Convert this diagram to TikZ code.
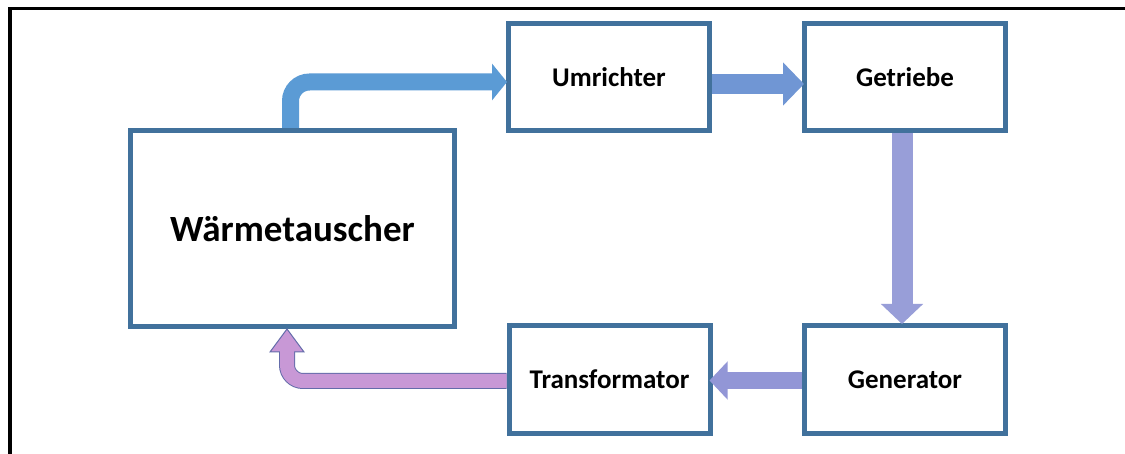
\documentclass[tikz,border=0pt]{standalone}
\usepackage{fontspec}
\setmainfont{Carlito}
\usetikzlibrary{arrows.meta,calc}
\definecolor{boxline}{RGB}{65,113,156}
\definecolor{arrA}{RGB}{91,155,213}
\definecolor{arrB}{RGB}{112,150,212}
\definecolor{arrC}{RGB}{152,158,216}
\definecolor{arrD}{RGB}{146,150,214}
\definecolor{arrE}{RGB}{200,152,214}
\definecolor{arrEline}{RGB}{100,108,170}
\tikzset{
  box/.style={draw=boxline, line width=5pt, fill=white, rectangle,
    font=\bfseries\fontsize{27}{30}\selectfont, inner sep=0pt},
  smallbox/.style={box, minimum width=201pt, minimum height=107pt},
  bigbox/.style={box, minimum width=324pt, minimum height=196pt,
    font=\bfseries\fontsize{37}{40}\selectfont},
}
\begin{document}
\begin{tikzpicture}[x=1pt,y=-1pt]
\useasboundingbox (0,0) rectangle (1125,454);
\fill[white] (0,0) rectangle (1125,454);
% frame
\draw[line width=3.5pt, line join=miter] (10,460) -- (10,8.5) -- (1130,8.5);
% nodes
\node[bigbox] (W) at (292.5,228.5) {Wärmetauscher};
\node[smallbox] (U) at (609,77) {Umrichter};
\node[smallbox] (G) at (905,77) {Getriebe};
\node[smallbox, minimum height=108pt] (T) at (609.5,379.5) {Transformator};
\node[smallbox, minimum height=108pt] (Gen) at (905,379.5) {Generator};
% arrow 1: bent blue
\draw[arrA, line width=17pt, rounded corners=19pt,
  -{Triangle[width=36pt,length=15pt]}]
  ($(W.north)+(-2,0)$) |- ($(U.west)+(1,5)$);
% arrow 2
\draw[arrB, line width=20pt, -{Triangle[width=42pt,length=21pt]}]
  ($(U.east)+(0,7)$) -- ($(G.west)+(2,7)$);
% arrow 3
\draw[arrC, line width=21pt, -{Triangle[width=41pt,length=20pt]}]
  ($(G.south)+(-3,0)$) -- ($(Gen.north)+(-3,1)$);
% arrow 4
\draw[arrD, line width=17pt, -{Triangle[width=37pt,length=18pt]}]
  ($(Gen.west)+(0,1)$) -- ($(T.east)+(-3,1)$);
% arrow 5: outlined bent
\coordinate (tip5) at ($(W.south)+(-5.5,0)$);
\draw[arrEline, line width=16pt, rounded corners=16pt]
  ($(T.west)+(0,1.5)$) -| ($(tip5)+(0,23)$);
\draw[fill=arrE, draw=arrEline, line width=1pt, line join=miter]
  (tip5) -- ($(tip5)+(17,23)$) -- ($(tip5)+(-17,23)$) -- cycle;
\draw[arrE, line width=14pt, rounded corners=16pt]
  ($(T.west)+(0,1.5)$) -| ($(tip5)+(0,21.5)$);
% redraw left border of Transformator over arrow start
\draw[boxline, line width=5pt] ($(T.north west)+(2.5,0)$) -- ($(T.south west)+(2.5,0)$);
\end{tikzpicture}
\end{document}
